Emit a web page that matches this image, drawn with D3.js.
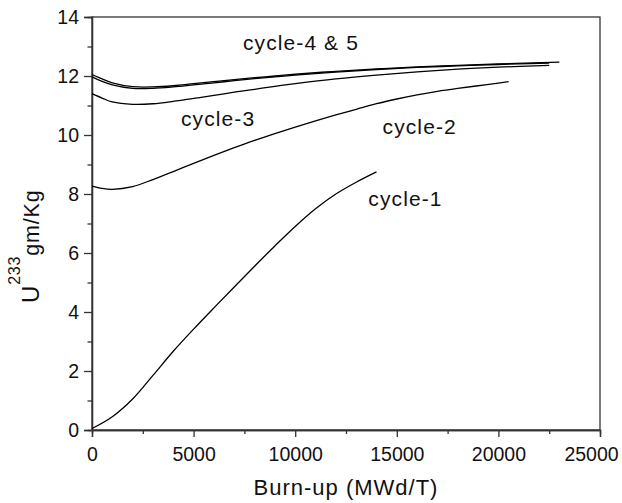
<!DOCTYPE html>
<html><head><meta charset="utf-8">
<script src="https://cdn.jsdelivr.net/npm/d3@7"></script>
<style>body{margin:0;background:#fff}svg{display:block}text{font-family:"Liberation Sans",Arial,Helvetica,sans-serif;fill:#111}</style>
</head><body><svg id="c" width="622" height="503"></svg>
<script>
const burnup1 = [0,1000,2000,3000,4000,5000,6000,7000,8000,9000,10000,11000,12000,13000,14000];
const cycle1  = [0.05,0.45,1.05,1.85,2.67,3.42,4.14,4.85,5.55,6.24,6.9,7.5,8.0,8.4,8.75];
const burnup2 = [0,500,1000,2000,3000,4000,5000,6000,7000,8000,9000,10000,11000,12000,13000,14000,15000,16000,17000,18000,19000,20000,20500];
const cycle2  = [8.27,8.19,8.16,8.25,8.49,8.76,9.04,9.31,9.57,9.82,10.05,10.27,10.48,10.68,10.87,11.06,11.22,11.36,11.48,11.58,11.67,11.76,11.81];
const burnup3 = [0,500,1000,2000,3000,4000,5000,6000,7000,8000,9000,10000,12000,14000,16000,18000,20000,22500];
const cycle3  = [11.40,11.25,11.12,11.04,11.06,11.14,11.24,11.34,11.45,11.55,11.65,11.74,11.9,12.03,12.14,12.23,12.3,12.36];
const burnup4 = [0,500,1000,2000,3000,4000,5000,6000,7000,8000,9000,10000,12000,14000,16000,18000,20000,22500];
const cycle4  = [11.97,11.82,11.7,11.58,11.58,11.63,11.7,11.77,11.84,11.91,11.97,12.03,12.13,12.22,12.29,12.34,12.39,12.44];
const burnup5 = [0,500,1000,2000,3000,4000,5000,6000,7000,8000,9000,10000,12000,14000,16000,18000,20000,23000];
const cycle5  = [12.05,11.9,11.77,11.64,11.63,11.67,11.74,11.81,11.88,11.94,12.0,12.06,12.16,12.24,12.31,12.36,12.41,12.47];
const xTicks = [0,5000,10000,15000,20000,25000];
const yTicks = [0,2,4,6,8,10,12,14];
const xMinor = [2500,7500,12500,17500,22500];
const yMinor = [1,3,5,7,9,11,13];
const labels = ["cycle-1","cycle-2","cycle-3","cycle-4 & 5"];
const labelAt = [[13600,7.59],[14300,10.03],[4380,10.3],[7430,12.88]];

const svg = d3.select("#c");
const m = {l:92, r:22, t:17, b:73};
const W = 622, H = 503;
const x = d3.scaleLinear().domain([0,25000]).range([m.l, W-m.r]);
const y = d3.scaleLinear().domain([0,14]).range([H-m.b, m.t]);

svg.append("rect").attr("x",m.l).attr("y",m.t).attr("width",W-m.r-m.l).attr("height",H-m.b-m.t)
  .attr("fill","none").attr("stroke","#333").attr("stroke-width",1.3);

const gx = svg.append("g").attr("transform",`translate(0,${H-m.b})`)
  .call(d3.axisBottom(x).tickValues(xTicks).tickSize(7).tickPadding(10).tickFormat(d3.format("d")));
const gx2 = svg.append("g").attr("transform",`translate(0,${H-m.b})`)
  .call(d3.axisBottom(x).tickValues(xMinor).tickSize(4).tickFormat(""));
const gy = svg.append("g").attr("transform",`translate(${m.l},0)`)
  .call(d3.axisLeft(y).tickValues(yTicks).tickSize(8).tickPadding(5));
const gy2 = svg.append("g").attr("transform",`translate(${m.l},0)`)
  .call(d3.axisLeft(y).tickValues(yMinor).tickSize(4.5).tickFormat(""));
[gx,gx2,gy,gy2].forEach(g=>{
  g.select(".domain").attr("stroke","#333").attr("stroke-width",1.3);
  g.selectAll(".tick line").attr("stroke","#333").attr("stroke-width",1.3);
  g.selectAll(".tick text").attr("font-size",19.5).attr("fill","#111")
   .attr("font-family",'"Liberation Sans",Arial,sans-serif');
});
gx.selectAll(".tick text").filter(d=>d===25000).attr("dx",-9);

const line = d3.line().x(d=>x(d[0])).y(d=>y(d[1])).curve(d3.curveCatmullRom.alpha(0.5));
const series = [[burnup1,cycle1],[burnup2,cycle2],[burnup3,cycle3],[burnup4,cycle4],[burnup5,cycle5]];
series.forEach(([bx,vy])=>{
  svg.append("path").datum(bx.map((b,i)=>[b,vy[i]])).attr("d",line)
    .attr("fill","none").attr("stroke","#000").attr("stroke-width",1.3);
});

labels.forEach((t,i)=>{
  svg.append("text").attr("x",x(labelAt[i][0])).attr("y",y(labelAt[i][1]))
    .attr("font-size",21).attr("letter-spacing","1.1px").text(t);
});

svg.append("text").attr("x",(m.l+W-m.r)/2).attr("y",495).attr("text-anchor","middle")
  .attr("font-size",22).attr("letter-spacing","1px").text("Burn-up (MWd/T)");
const yl = svg.append("text").attr("transform","rotate(-90)").attr("x",-303).attr("y",39)
  .attr("font-size",21.5).attr("letter-spacing","0.8px");
yl.append("tspan").attr("font-size",24).text("U");
yl.append("tspan").attr("font-size",16).attr("dy",-19).text("233");
yl.append("tspan").attr("dy",19).text("gm/Kg");
</script></body></html>
